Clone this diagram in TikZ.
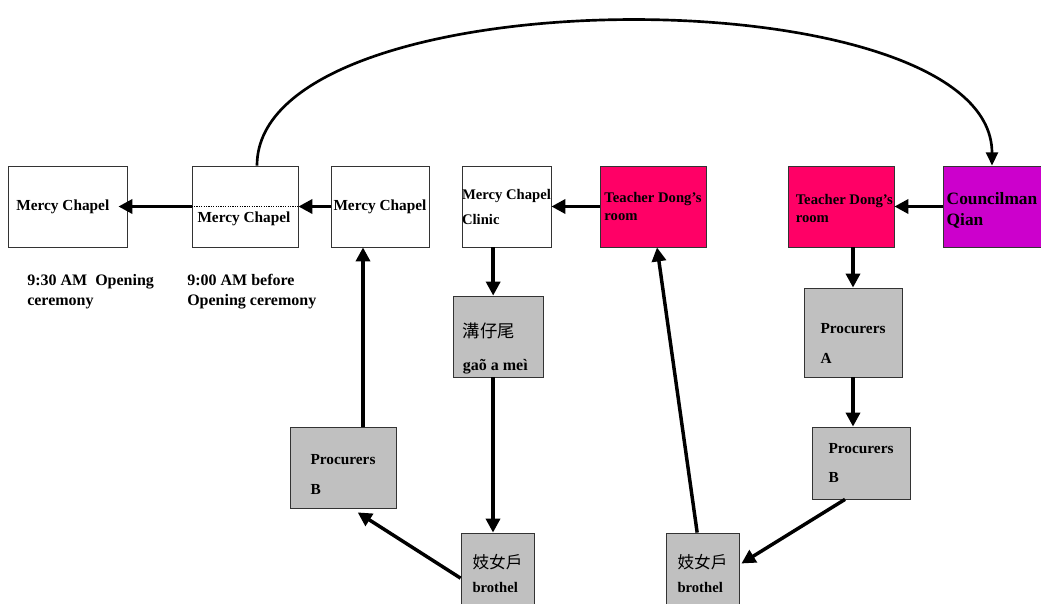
\documentclass[tikz,border=0pt]{standalone}
\usepackage{fontspec}
\setmainfont{Liberation Serif}
\newfontfamily\cjk{Noto Sans CJK TC}
\usetikzlibrary{arrows.meta}

\definecolor{dongpink}{HTML}{FF0066}
\definecolor{qianpurple}{HTML}{CC00CC}
\definecolor{boxgray}{HTML}{C0C0C0}

\begin{document}
\begin{tikzpicture}[
	x=0.75pt, y=-0.75pt,
	box/.style={ draw=black!80, line width=0.6pt, inner sep=0pt, align=left, minimum height=60.75pt, font=\bfseries\fontsize{11}{13}\selectfont },
	whitebox/.style={ box, fill=white },
	pinkbox/.style={ box, fill=dongpink },
	graybox/.style={ box, fill=boxgray },
	note/.style={ align=left, anchor=west, inner sep=0pt, font=\bfseries\fontsize{12}{14.4}\selectfont },
	link/.style={ line width=2.6pt, -{Triangle[length=10.5pt,width=10.5pt]} }
]
\useasboundingbox (0,0) rectangle (1041,603);

% top row
\node at (67.5,206.5) (chapelA) [whitebox,minimum width=89.25pt,font=\bfseries\fontsize{11.5}{13.8}\selectfont] {Mercy Chapel\hspace*{7pt}};
\node at (245,206.5) (chapelB) [whitebox,minimum width=79.5pt] {};
\node at (244,219) (chapelBtext) [font=\bfseries\fontsize{11.5}{13.8}\selectfont,inner sep=0pt] {Mercy Chapel};
\draw[dash pattern=on 0.9pt off 0.9pt,line width=0.9pt] (chapelB.west) to (chapelB.east);
\node at (380,206.5) (chapelC) [whitebox,minimum width=73.5pt,font=\bfseries\fontsize{11.5}{13.8}\selectfont] {Mercy Chapel};
\node at (506.5,206.5) (clinic) [whitebox,minimum width=66.75pt] {Mercy Chapel\\[5.75pt]Clinic};
\node at (653,206.5) (dongA) [pinkbox,minimum width=79.5pt] {Teacher Dong's\\room};
\node at (841,206.5) (dongB) [pinkbox,minimum width=79.5pt] {\rule{0pt}{11pt}\hspace*{5pt}Teacher Dong's\\[0.5pt]\hspace*{5pt}room};
\node at (992,206.5) (qian) [box,fill=qianpurple,minimum width=73.5pt,font=\bfseries\fontsize{13}{15.6}\selectfont] {\rule{0pt}{15pt}Councilman\\Qian};

\draw[link] (chapelB.west) to ([xshift=-6.75pt]chapelA.east);
\draw[link] (chapelC.west) to (chapelB.east);
\draw[link] (dongA.west) to (clinic.east);
\draw[link] (qian.west) to (dongB.east);

\node at (27,291.5) (timeA) [note] {9:30 AM~ Opening\\[1pt]ceremony};
\node at (187,291.5) (timeB) [note] {9:00 AM before\\[1pt]Opening ceremony};

% lower boxes
\node at (498,336.5) (gao) [graybox,minimum width=67.5pt,font=\bfseries\fontsize{12}{14.4}\selectfont] {{\cjk\mdseries\fontsize{13}{15}\selectfont\rule{0pt}{29pt}溝仔尾}\\[10pt]gaõ a meì\hspace*{4pt}};
\node at (343,467.5) (procLeft) [graybox,minimum width=79.5pt,font=\bfseries\fontsize{11.5}{13.8}\selectfont] {\rule{0pt}{18pt}Procurers\\[8.5pt]B};
\node at (497.5,573.5) (brothelA) [graybox,minimum width=54.75pt] {{\cjk\mdseries\fontsize{12.5}{14}\selectfont 妓女戶}\\[5pt]brothel};
\node at (702.5,573.5) (brothelB) [graybox,minimum width=54.75pt] {{\cjk\mdseries\fontsize{12.5}{14}\selectfont 妓女戶}\\[5pt]brothel};
\node at (853,332.5) (procA) [graybox,minimum width=73.5pt,minimum height=66.75pt,font=\bfseries\fontsize{11.5}{13.8}\selectfont] {\rule{0pt}{24pt}Procurers\\[8.5pt]A};
\node at (861,463) (procRight) [graybox,minimum width=73.5pt,minimum height=54pt,font=\bfseries\fontsize{11.5}{13.8}\selectfont] {Procurers\\[8pt]B};

\draw[link] ([xshift=15pt]procLeft.north) to ([xshift=15pt]procLeft.north |- chapelC.south);
\draw[link] ([xshift=-10pt]clinic.south) to ([xshift=-10pt]clinic.south |- gao.north);
\draw[link] ([xshift=-3.75pt]gao.south) to ([xshift=-3.75pt]gao.south |- brothelA.north);
\draw[link] ([yshift=-3.5pt]brothelA.west) to ([xshift=11pt,yshift=-3pt]procLeft.south);
\draw[link] ([xshift=-4pt]brothelB.north) to ([xshift=3pt]dongA.south);
\draw[link] ([xshift=-12pt]procRight.south) to ([xshift=1.5pt,yshift=7.5pt]brothelB.east);
\draw[link] (dongB.south -| procA.north) to (procA.north);
\draw[link] (procA.south) to (procA.south |- procRight.north);

% long arc over the top row
\draw[line width=2pt,-{Triangle[length=10pt,width=9pt]}] ([xshift=9pt]chapelB.north) .. controls (257,-27) and (992,-27) .. (qian.north);

\end{tikzpicture}
\end{document}
